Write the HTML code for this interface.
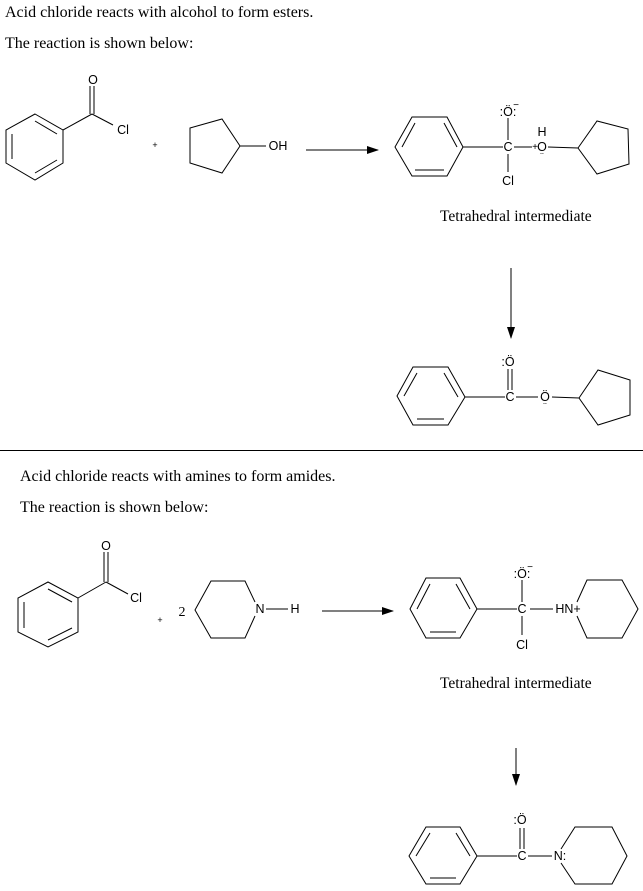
<!DOCTYPE html>
<html><head><meta charset="utf-8"><style>
body{margin:0;background:#fff}
svg{display:block}
.t{font-family:"Liberation Serif",serif;font-size:16px;fill:#000}
.a{font-family:"Liberation Sans",sans-serif;font-size:12.5px;fill:#000;text-anchor:middle}
</style></head><body>
<svg width="643" height="891" viewBox="0 0 643 891" xmlns="http://www.w3.org/2000/svg">
<defs><marker id="ah" markerWidth="12" markerHeight="8" refX="11" refY="4" orient="auto" markerUnits="userSpaceOnUse"><path d="M0,0 L12,4 L0,8 Z" fill="#000"/></marker></defs>
<g class="t">
<text x="5" y="17">Acid chloride reacts with alcohol to form esters.</text>
<text x="5" y="48">The reaction is shown below:</text>
<text x="20" y="481">Acid chloride reacts with amines to form amides.</text>
<text x="20" y="512">The reaction is shown below:</text>
<text x="440" y="221" font-size="15.5">Tetrahedral intermediate</text>
<text x="440" y="688" font-size="15.5">Tetrahedral intermediate</text>
</g>
<g stroke="#000" stroke-width="1" fill="none">
<polygon points="35,114 63,130 63,163 35,180 6,163 6,130"/>
<line x1="35" y1="121" x2="57" y2="134"/><line x1="57" y1="160" x2="35" y2="173"/><line x1="12" y1="134" x2="12" y2="159"/>
<line x1="63" y1="130" x2="92" y2="114"/>
<line x1="90" y1="114" x2="90" y2="86"/><line x1="94" y1="114" x2="94" y2="86"/>
<line x1="92" y1="114" x2="113" y2="125"/>
<polygon points="190,128 222,119 240,146 222,173 190,163"/>
<line x1="240" y1="146" x2="266" y2="146"/>
<line x1="306" y1="150" x2="378" y2="150" marker-end="url(#ah)"/>
<polygon points="395,147 412,117 447,117 463,147 447,176 412,176"/>
<line x1="402" y1="147" x2="415" y2="123"/><line x1="444" y1="123" x2="457" y2="147"/><line x1="415" y1="170" x2="444" y2="170"/>
<line x1="463" y1="147" x2="503" y2="147"/>
<line x1="508" y1="118" x2="508" y2="140"/><line x1="508" y1="154" x2="508" y2="172"/>
<line x1="514" y1="147" x2="532" y2="147"/>
<line x1="548" y1="147" x2="578" y2="148"/>
<polygon points="578,148 597,121 628,129 629,164 597,174"/>
<line x1="511" y1="268" x2="511" y2="338" marker-end="url(#ah)"/>
<polygon points="397,396 413,367 448,367 465,397 448,425 413,425"/>
<line x1="404" y1="396" x2="417" y2="373"/><line x1="444" y1="373" x2="458" y2="397"/><line x1="417" y1="419" x2="444" y2="419"/>
<line x1="465" y1="397" x2="505" y2="397"/>
<line x1="508" y1="369" x2="508" y2="390"/><line x1="512" y1="369" x2="512" y2="390"/>
<line x1="516" y1="397" x2="538" y2="397"/>
<line x1="552" y1="397" x2="579" y2="398"/>
<polygon points="579,398 598,370 630,380 630,415 598,425"/>
<line x1="0" y1="450.5" x2="643" y2="450.5"/>
<polygon points="48,582 78,598 78,632 48,647 18,632 18,598"/>
<line x1="48" y1="589" x2="72" y2="602"/><line x1="72" y1="628" x2="48" y2="640"/><line x1="24" y1="602" x2="24" y2="628"/>
<line x1="78" y1="598" x2="106" y2="582"/>
<line x1="104" y1="582" x2="104" y2="552"/><line x1="108" y1="582" x2="108" y2="552"/>
<line x1="106" y1="582" x2="128" y2="594"/>
<polyline points="255,602 245,581 211,581 195,610 211,638 245,638 255,616"/>
<line x1="266" y1="609" x2="288" y2="609"/>
<line x1="322" y1="611" x2="393" y2="611" marker-end="url(#ah)"/>
<polygon points="410,609 426,578 460,578 477,609 460,638 426,638"/>
<line x1="417" y1="609" x2="430" y2="584"/><line x1="456" y1="584" x2="470" y2="609"/><line x1="430" y1="632" x2="456" y2="632"/>
<line x1="477" y1="609" x2="517" y2="609"/>
<line x1="522" y1="580" x2="522" y2="602"/><line x1="522" y1="616" x2="522" y2="635"/>
<line x1="530" y1="609" x2="553" y2="609"/>
<polyline points="577,602 587,580 622,580 638,609 622,638 587,638 577,616"/>
<line x1="516" y1="748" x2="516" y2="785" marker-end="url(#ah)"/>
<polygon points="409,856 426,827 460,827 477,856 460,884 426,884"/>
<line x1="416" y1="856" x2="430" y2="833"/><line x1="456" y1="833" x2="470" y2="856"/><line x1="430" y1="878" x2="456" y2="878"/>
<line x1="477" y1="856" x2="517" y2="856"/>
<line x1="520" y1="828" x2="520" y2="849"/><line x1="524" y1="828" x2="524" y2="849"/>
<line x1="528" y1="856" x2="552" y2="856"/>
<polyline points="561,849 575,827 612,827 627,856 612,884 575,884 561,863"/>
</g>
<g class="a">
<text x="93" y="84">O</text>
<text x="123" y="134">Cl</text>
<text x="155" y="148" font-size="9">+</text>
<text x="278" y="150">OH</text>
<text x="508" y="116">:Ö:</text><text x="516" y="108" font-size="10">−</text>
<text x="508" y="151">C</text>
<text x="508" y="185">Cl</text>
<text x="542" y="136">H</text>
<text x="535" y="150" font-size="10">+</text><text x="542" y="151">O</text>
<text x="542" y="160" font-size="10">¨</text>
<text x="508" y="366">:Ö</text>
<text x="510" y="401">C</text>
<text x="545" y="401">Ö</text>
<text x="545" y="410" font-size="10">¨</text>
<text x="106" y="550">O</text>
<text x="136" y="602">Cl</text>
<text x="160" y="623" font-size="9">+</text>
<text x="182" y="616" font-size="14" font-family="Liberation Serif">2</text>
<text x="260" y="613">N</text>
<text x="295" y="613">H</text>
<text x="522" y="578">:Ö:</text><text x="530" y="570" font-size="10">−</text>
<text x="522" y="613">C</text>
<text x="522" y="649">Cl</text>
<text x="568" y="613">HN+</text>
<text x="520" y="824">:Ö</text>
<text x="522" y="860">C</text>
<text x="560" y="860">N:</text>
</g>
</svg>
</body></html>
